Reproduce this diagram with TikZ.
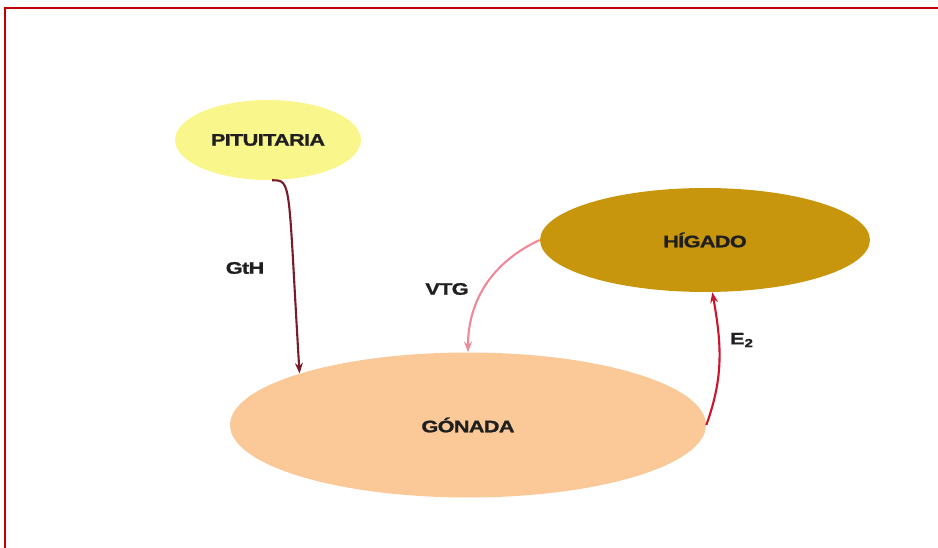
\documentclass[tikz,border=0pt]{standalone}
\usepackage{fontspec}
\usepackage{tikz}
\usetikzlibrary{shapes.geometric,arrows.meta}
\newfontfamily\lblfont[FakeStretch=1.3,FakeBold=1.2,LetterSpace=-4]{Liberation Sans}

\begin{document}
\begin{tikzpicture}[x=0.02cm,y=0.02cm,
  organ/.style={ellipse,inner sep=0pt,font=\lblfont\bfseries\fontsize{9.5}{11}\selectfont,text=black!88},
  hormone/.style={-{Stealth[length=6pt,width=4.5pt]},line width=1.2pt},
  hormone label/.style={font=\lblfont\bfseries\fontsize{9.5}{11}\selectfont,text=black!88}]
  \definecolor{pitfill}{RGB}{249,246,140}
  \definecolor{higfill}{RGB}{200,150,12}
  \definecolor{gonfill}{RGB}{251,201,152}
  \definecolor{gthred}{RGB}{122,28,40}
  \definecolor{vtgpink}{RGB}{240,136,152}
  \definecolor{etwored}{RGB}{206,20,44}
  \definecolor{framered}{RGB}{192,0,0}

  \useasboundingbox (0,0) rectangle (938,548);
  \draw[framered,line width=1.2pt] (5,0) -- (5,540) -- (938,540);

  \node[organ,fill=pitfill,minimum width=3.72cm,minimum height=1.6cm] (pit) at (268,408) {PITUITARIA};
  \node[organ,fill=higfill,minimum width=6.6cm,minimum height=2.08cm] (hig) at (705,308) {HÍGADO};
  \node[organ,fill=gonfill,minimum width=9.52cm,minimum height=2.9cm] (gon) at (468,123) {GÓNADA};

  % hormones
  \draw[hormone,gthred] (pit.-84) .. controls (292,368) and (288,366) .. (gon.163);
  \draw[hormone,vtgpink] (hig.west) to[out=205,in=90] (gon.north);
  \draw[hormone,etwored] (gon.east) to[out=70,in=-80] (hig.-82);

  \node[hormone label] (gth) at (245,280) {GtH};
  \node[hormone label] (vtg) at (447,259) {VTG};
  \node[hormone label] (e2) at (742,208) {E\textsubscript{2}};
\end{tikzpicture}
\end{document}
